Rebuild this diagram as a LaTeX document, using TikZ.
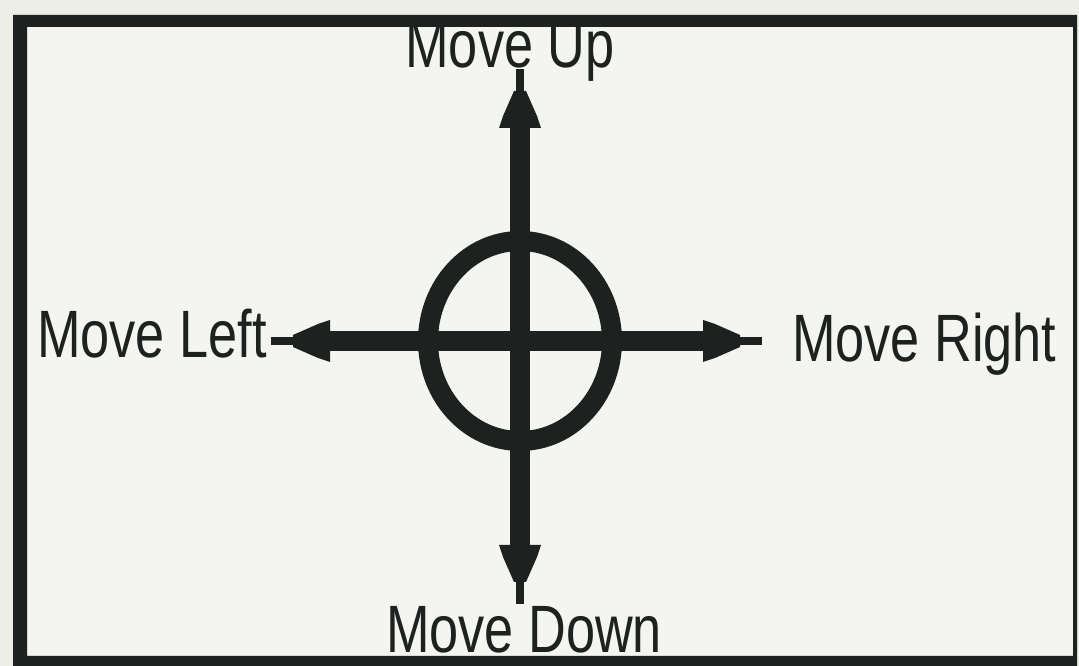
\documentclass[tikz,border=0pt]{standalone}
\usepackage{fontspec}
\usepackage{graphicx}
\setmainfont{Liberation Sans}
\definecolor{ink}{HTML}{1D211F}
\definecolor{paper}{HTML}{F4F4F0}
\definecolor{outside}{HTML}{EEEEE9}
\newcommand{\lbltext}[1]{\scalebox{0.78}[1]{\fontsize{67}{67}\selectfont #1}}
\tikzset{
  lbl/.style={inner sep=0pt, text=ink},
  shaft/.style={draw=ink, line width=20pt},
  ring/.style={draw=ink, line width=20pt},
  arrowhead/.pic={
    \fill[ink] (0,-21) -- (12,-17) -- (37,-6) -- (37,6) -- (12,17) -- (0,21) -- cycle;
    \fill[ink] (35,-4) rectangle (59,4);
  }
}
\begin{document}
\begin{tikzpicture}[x=1pt,y=1pt]
\useasboundingbox (0,0) rectangle (1079,666);
\fill[outside] (0,0) rectangle (1079,666);
\fill[paper] (27,10) rectangle (1073,651);
% center and arrow bases
\coordinate (c) at (520,325);
\coordinate (bU) at (520,538);
\coordinate (bD) at (520,121);
\coordinate (bL) at (330,325);
\coordinate (bR) at (703,325);
% ring
\draw[ring] (c) ellipse [x radius=92, y radius=100];
% shafts
\draw[shaft] (bU) -- (bD);
\draw[shaft] (bL) -- (bR);
% heads
\pic[rotate=90] at (bU) {arrowhead};
\pic[rotate=-90] at (bD) {arrowhead};
\pic[rotate=180] at (bL) {arrowhead};
\pic at (bR) {arrowhead};
% labels
\node[lbl, anchor=base] (up) at (510,598) {\lbltext{Move Up}};
\node[lbl, anchor=base] (down) at (524,13) {\lbltext{Move Down}};
\node[lbl, anchor=base west] (left) at (37,308) {\lbltext{Move Left}};
\node[lbl, anchor=base west] (right) at (792,304) {\lbltext{Move Right}};
% frame
\fill[ink, even odd rule] (13,0) rectangle (1077,651) (27,10) rectangle (1073,639);
\end{tikzpicture}
\end{document}
